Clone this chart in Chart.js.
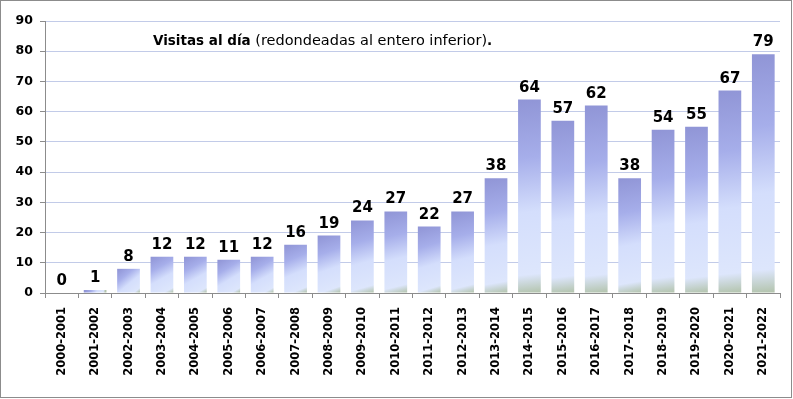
<!DOCTYPE html>
<html>
<head>
<meta charset="utf-8">
<script src="https://cdn.jsdelivr.net/npm/chart.js@4.4.0/dist/chart.umd.min.js"></script>
<style>
html,body{margin:0;padding:0;background:#fff;}
#wrap{position:relative;width:793px;height:399px;}
</style>
</head>
<body>
<div id="wrap"><canvas id="c" width="793" height="399"></canvas></div>
<script>
const categories = ["2000-2001","2001-2002","2002-2003","2003-2004","2004-2005","2005-2006","2006-2007","2007-2008","2008-2009","2009-2010","2010-2011","2011-2012","2012-2013","2013-2014","2014-2015","2015-2016","2016-2017","2017-2018","2018-2019","2019-2020","2020-2021","2021-2022"];
const visitas = [0,1,8,12,12,11,12,16,19,24,27,22,27,38,64,57,62,38,54,55,67,79];
const yTicks = [0,10,20,30,40,50,60,70,80,90];
const titleBold = "Visitas al día";
const titleNormal = " (redondeadas al entero inferior)";
const titleEnd = ".";

const FONT = "'DejaVu Sans', Verdana, sans-serif";

function barGradient(context) {
  const chart = context.chart;
  const {ctx, chartArea} = chart;
  if (!chartArea) return '#b0b8ee';
  const i = context.dataIndex;
  const v = context.raw;
  const ys = chart.scales.y, xs = chart.scales.x;
  const top = ys.getPixelForValue(v);
  const base = ys.getPixelForValue(0);
  const x = xs.getPixelForValue(i);
  if (base - top < 1) return '#a8b0e8';
  const g = ctx.createLinearGradient(x - 10, top, x + 10, base);
  g.addColorStop(0, '#9095d6');
  g.addColorStop(0.3, '#a6aeea');
  g.addColorStop(0.58, '#d4defc');
  g.addColorStop(0.9, '#dde6fc');
  g.addColorStop(1, '#b2c3ab');
  return g;
}

const extras = {
  id: 'extras',
  beforeDraw(chart) {
    const c = chart.ctx;
    c.save();
    c.fillStyle = '#ffffff';
    c.fillRect(0, 0, chart.width, chart.height);
    c.restore();
  },
  afterDraw(chart) {
    const c = chart.ctx;
    c.save();
    c.strokeStyle = '#8c8c8c';
    c.lineWidth = 1;
    c.strokeRect(0.5, 0.5, chart.width - 2, chart.height - 2);
    const meta = chart.getDatasetMeta(0);
    c.font = "bold 15px " + FONT;
    c.fillStyle = '#000';
    c.textAlign = 'center';
    c.textBaseline = 'alphabetic';
    meta.data.forEach((bar, i) => {
      c.fillText(String(visitas[i]), bar.x, bar.y - 8);
    });
    c.textAlign = 'left';
    let x = 153, y = 45;
    c.font = "bold 13.5px " + FONT;
    c.fillText(titleBold, x, y);
    x += c.measureText(titleBold).width;
    c.font = "14.5px " + FONT;
    c.fillText(titleNormal, x, y);
    x += c.measureText(titleNormal).width;
    c.font = "bold 13.5px " + FONT;
    c.fillText(titleEnd, x, y);
    c.restore();
  }
};

new Chart(document.getElementById('c'), {
  type: 'bar',
  data: {
    labels: categories,
    datasets: [{
      data: visitas,
      backgroundColor: barGradient,
      borderWidth: 0,
      barPercentage: 0.68,
      categoryPercentage: 1.0
    }]
  },
  options: {
    responsive: false,
    animation: false,
    devicePixelRatio: 1,
    layout: { padding: { left: 0, top: 21, right: 13, bottom: 0 } },
    plugins: { legend: { display: false }, tooltip: { enabled: false }, title: { display: false } },
    scales: {
      x: {
        afterFit(s) { s.height = 106; },
        grid: { drawOnChartArea: false, tickLength: 5, color: '#8c8c8c', offset: true },
        border: { color: '#8c8c8c' },
        ticks: {
          autoSkip: false, maxRotation: 90, minRotation: 90,
          color: '#000', font: { family: FONT, size: 11.5, weight: 'bold' }, padding: 9
        }
      },
      y: {
        min: 0, max: 90,
        afterFit(s) { s.width = 45; },
        afterBuildTicks(s) { s.ticks = yTicks.map(v => ({ value: v })); },
        grid: { color: '#c2cbe8', tickColor: '#8c8c8c', tickLength: 5 },
        border: { color: '#8c8c8c' },
        ticks: { color: '#000', font: { family: FONT, size: 12.5, weight: 'bold' }, padding: 7 }
      }
    }
  },
  plugins: [extras]
});
</script>
</body>
</html>
